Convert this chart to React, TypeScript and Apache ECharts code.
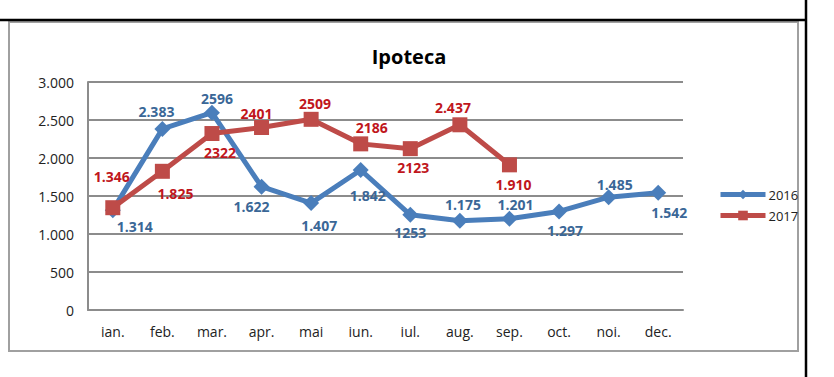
import React, { useEffect, useRef } from "react";
import * as echarts from "echarts";

const categories = ["ian.", "feb.", "mar.", "apr.", "mai", "iun.", "iul.", "aug.", "sep.", "oct.", "noi.", "dec."];
const values2016 = [1314, 2383, 2596, 1622, 1407, 1842, 1253, 1175, 1201, 1297, 1485, 1542];
const values2017 = [1346, 1825, 2322, 2401, 2509, 2186, 2123, 2437, 1910];
const labels2016 = ["1.314", "2.383", "2596", "1.622", "1.407", "1.842", "1253", "1.175", "1.201", "1.297", "1.485", "1.542"];
const labels2017 = ["1.346", "1.825", "2322", "2401", "2509", "2186", "2123", "2.437", "1.910"];
const yTicks = { min: 0, max: 3000, interval: 500 };

// label offsets (style/position, kept apart from data)
const offsets2016 = [[22, 16], [-6, -17], [5, -14], [-10, 20], [8, 22], [7, 25], [0, 18], [3, -16], [6, -14], [6, 19], [6, -13], [11, 20]];
const offsets2017 = [[-1, -31], [13, 22], [8, 19], [-5, -14], [4, -16], [11, -16], [3, 19], [-7, -17], [4, 20]];

const FONT = "'Open Sans', 'Liberation Sans', sans-serif";
const BLUE = "#4A7EBB";
const RED = "#BE4B48";
const BLUE_TXT = "#3A6797";
const RED_TXT = "#C0161C";

function fmt(v: number) {
  return String(v).replace(/\B(?=(\d{3})+(?!\d))/g, ".");
}

export default function App() {
  const ref = useRef<HTMLDivElement>(null);
  useEffect(() => {
    if (!ref.current) return;
    const chart = echarts.init(ref.current, undefined, { renderer: "svg" });
    const mk = (vals: number[], labels: string[], offs: number[][], color: string) =>
      vals.map((v, i) => ({
        value: v,
        label: {
          show: true,
          position: "inside",
          offset: offs[i],
          formatter: labels[i],
          color,
          fontFamily: FONT,
          fontWeight: "bold",
          fontSize: 14,
        },
      }));
    chart.setOption({
      animation: false,
      title: {
        text: "Ipoteca",
        left: 404,
        textAlign: "center",
        top: 41,
        textStyle: { fontFamily: FONT, fontWeight: "bold", fontSize: 20, color: "#000" },
      },
      legend: {
        orient: "vertical",
        left: 713,
        top: 183,
        itemWidth: 45,
        itemHeight: 12,
        itemGap: 8,
        lineStyle: { width: 5 },
        textStyle: { fontFamily: FONT, fontSize: 13, color: "#222", padding: [0, 0, 0, -2] },
        data: ["2016", "2017"],
      },
      grid: { left: 88, right: 151, top: 82, bottom: 67, containLabel: false },
      xAxis: {
        type: "category",
        data: categories,
        boundaryGap: true,
        axisLine: { lineStyle: { color: "#8C8C8C", width: 2 } },
        axisTick: { show: false },
        axisLabel: { fontFamily: FONT, fontSize: 14, color: "#222", margin: 14 },
      },
      yAxis: {
        type: "value",
        min: yTicks.min,
        max: yTicks.max,
        interval: yTicks.interval,
        axisLine: { show: true, lineStyle: { color: "#8C8C8C", width: 2 } },
        axisTick: { show: false },
        splitLine: { lineStyle: { color: "#8C8C8C", width: 2 } },
        axisLabel: { fontFamily: FONT, fontSize: 14, color: "#222", margin: 14, formatter: (v: number) => fmt(v) },
      },
      series: [
        {
          name: "2016",
          type: "line",
          data: mk(values2016, labels2016, offsets2016, BLUE_TXT),
          symbol: "diamond",
          symbolSize: 16,
          lineStyle: { color: BLUE, width: 5 },
          itemStyle: { color: BLUE },
          z: 2,
        },
        {
          name: "2017",
          type: "line",
          data: mk(values2017, labels2017, offsets2017, RED_TXT),
          symbol: "rect",
          symbolSize: 15,
          lineStyle: { color: RED, width: 5 },
          itemStyle: { color: RED },
          z: 3,
        },
      ],
      graphic: [
        { type: "rect", shape: { x: 9, y: 22, width: 789, height: 329 }, style: { fill: "none", stroke: "#A0A0A0", lineWidth: 2 }, z: -1 },
        { type: "line", shape: { x1: 0, y1: 20, x2: 806, y2: 20 }, style: { stroke: "#000", lineWidth: 2.5 } },
        { type: "line", shape: { x1: 806, y1: 0, x2: 806, y2: 377 }, style: { stroke: "#000", lineWidth: 2.5 } },
      ],
    });
    return () => chart.dispose();
  }, []);
  return <div ref={ref} style={{ position: "fixed", left: 0, top: 0, width: 834, height: 377, background: "#fff" }} />;
}
